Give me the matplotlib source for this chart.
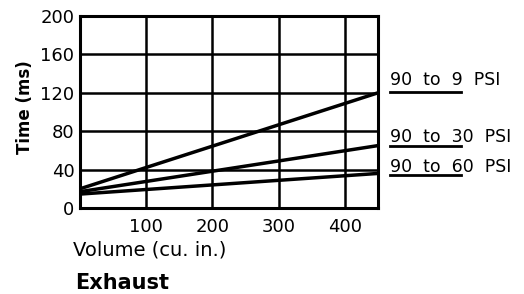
import matplotlib
matplotlib.use("Agg")
import matplotlib.pyplot as plt

plt.rcParams['font.family'] = ['DejaVu Sans']

volume = [0, 450]
psi_9 = [20, 120]
psi_30 = [17, 65]
psi_60 = [14.5, 36]
labels = ["90  to  9  PSI", "90  to  30  PSI", "90  to  60  PSI"]
label_base = [85, 142, 172]   # baseline rows (px)
under_y = [92, 146, 175]      # underline rows (px)
xticks = [100, 200, 300, 400]
yticks = [0, 40, 80, 120, 160, 200]

W, H = 524, 294
fig = plt.figure(figsize=(W / 100, H / 100), dpi=100)
ax = fig.add_axes([80 / W, (H - 208) / H, 298 / W, 192 / H])

for s in [psi_9, psi_30, psi_60]:
    ax.plot(volume, s, color="black", lw=2.5, solid_capstyle="butt")

ax.set_xlim(0, 450)
ax.set_ylim(0, 200)
ax.set_xticks(xticks)
ax.set_yticks(yticks)
ax.grid(True, color="black", lw=1.8)
ax.tick_params(length=0, labelsize=13)
ax.tick_params(axis="x", pad=7)
ax.tick_params(axis="y", pad=4)
for sp in ax.spines.values():
    sp.set_linewidth(2.2)

fig.text(25 / W, 1 - 107 / H, "Time (ms)", fontsize=12, fontweight="bold",
         rotation=90, va="center", ha="center")
fig.text(73 / W, 1 - 255 / H, "Volume (cu. in.)", fontsize=14, va="baseline", ha="left")
fig.text(75 / W, 1 - 289 / H, "Exhaust", fontsize=15, fontweight="bold", va="baseline", ha="left")

for lab, yb, yu in zip(labels, label_base, under_y):
    fig.text(390 / W, 1 - yb / H, lab, fontsize=12.5, va="baseline", ha="left")
    fig.add_artist(plt.Line2D([390 / W, 461 / W], [1 - yu / H] * 2, color="black", lw=2,
                              transform=fig.transFigure))

fig.savefig("out.png", dpi=100)
